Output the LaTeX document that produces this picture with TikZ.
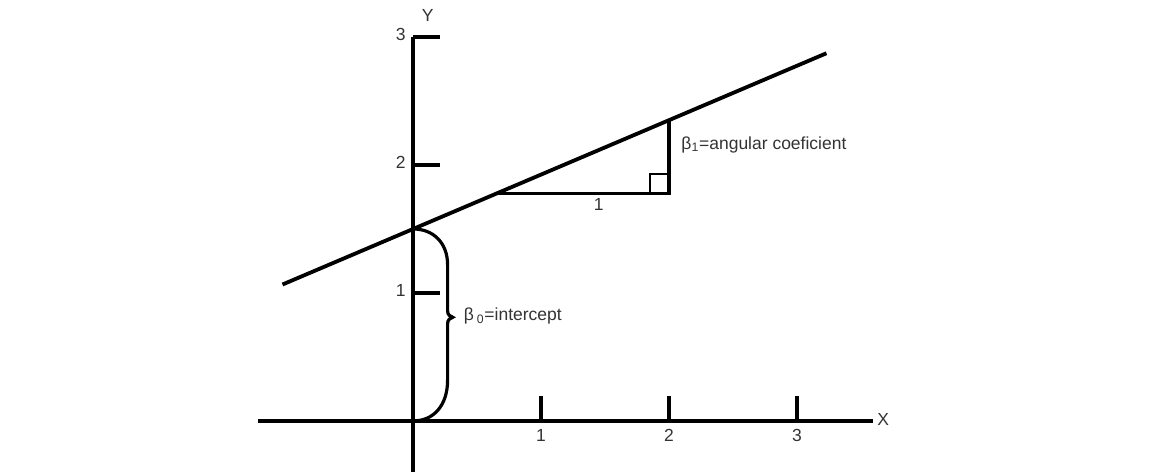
\documentclass[tikz,border=0pt]{standalone}
\usepackage{fontspec}
\setmainfont{Liberation Sans}
\begin{document}
\begin{tikzpicture} [x=2.83cm, y=2.83cm,
    line width=2.4pt,
    lbl/.style={text=black!80, font=\fontsize{11}{13}\selectfont, inner sep=1pt},
    tick/.style={line width=2pt}]
  \useasboundingbox (-3.227,-0.398) rectangle (5.75,3.289);

  % axes
  \coordinate (xl) at (-1.21,0);
  \coordinate (xr) at (3.59,0);
  \coordinate (yb) at (0,-0.42);
  \coordinate (yt) at (0,2.99);
  \coordinate (O) at (0,0);
  \node[lbl, anchor=west] (X) at (3.6,0.01) {X};
  \node[lbl] (Y) at (0.115,3.17) {Y};
  \draw (xl) -- (xr);
  \draw (yb) -- (yt);

  % ticks
  \foreach \i in {1,2,3} {
    \coordinate (xt\i) at (\i,0);
    \draw[tick] (xt\i) -- ++(0,0.195);
    \node[lbl] (xn\i) at (\i,-0.115) {\i};
  }
  \foreach \i in {1,2,3} {
    \coordinate (yt\i) at (0,\i);
    \draw[tick] (yt\i) -- ++(0.21,0);
    \node[lbl, anchor=east] (yn\i) at (-0.03,\i+0.02) {\i};
  }
  \draw (yt) -- (yt3);

  % regression line
  \coordinate (L1) at (-1.02,1.066);
  \coordinate (L2) at (3.23,2.873);
  \coordinate (P) at (0,1.5);
  \draw (L1) -- (L2);

  % slope triangle
  \coordinate (A) at (0.656,1.779);
  \coordinate (C) at (2,1.779);
  \coordinate (B) at (2,2.35);
  \draw[line width=2pt] (A) -- (C) -- (B);
  \draw[line width=1.6pt] (C) ++(-0.15,0) |- ++(0.15,0.15);
  \node[lbl] (one) at (1.45,1.69) {1};
  \node[lbl, anchor=west] (b1) at (2.07,2.16) {β\textsubscript{1}=angular coeficient};

  % intercept brace
  \draw[line width=2pt] (P) .. controls (0.16,1.5) and (0.27,1.39) .. (0.27,1.22)
    -- (0.27,0.86) .. controls (0.27,0.83) and (0.29,0.815) .. (0.31,0.81)
    .. controls (0.29,0.805) and (0.27,0.79) .. (0.27,0.76)
    -- (0.27,0.32) .. controls (0.27,0.12) and (0.16,0) .. (O);
  \node[lbl, anchor=west] (b0) at (0.37,0.82) {β\,\textsubscript{0}=intercept};
\end{tikzpicture}
\end{document}
